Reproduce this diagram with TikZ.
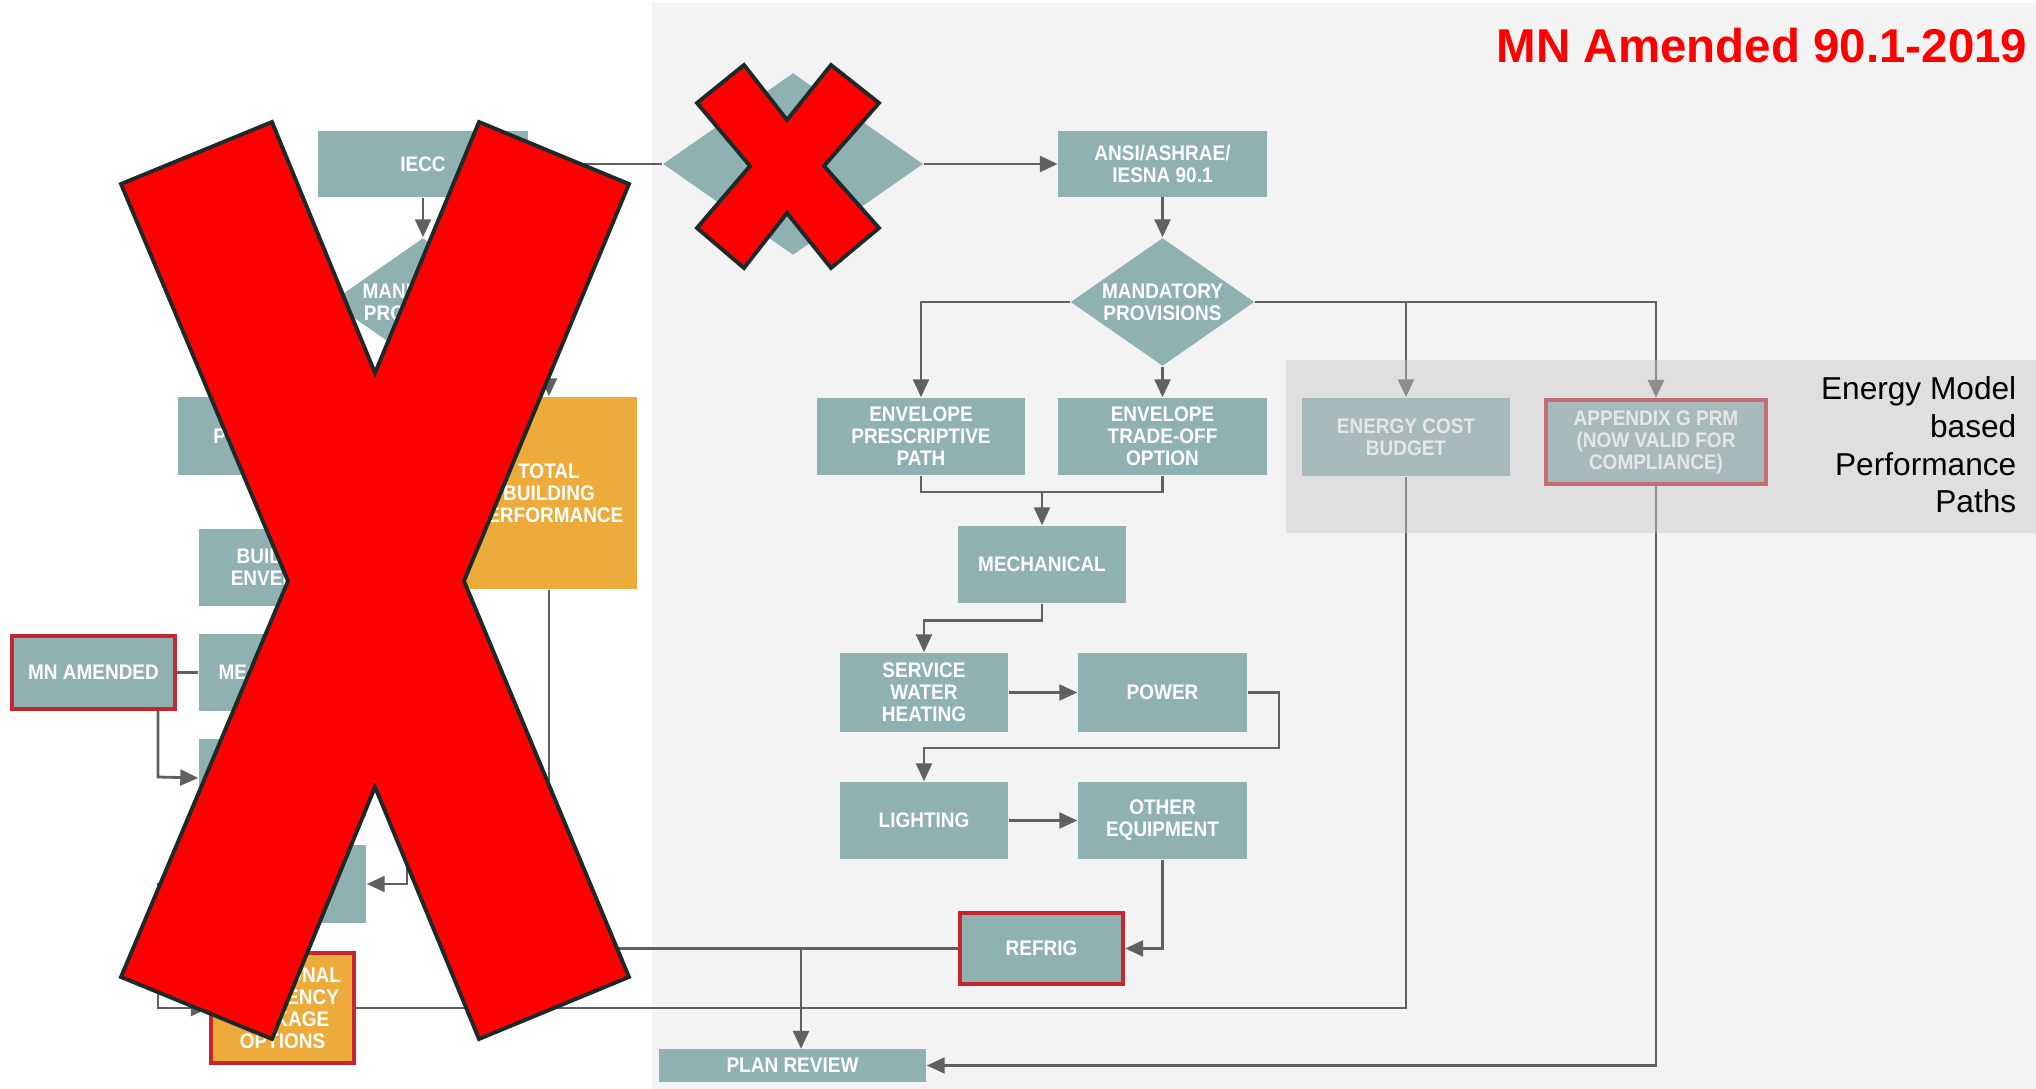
\documentclass[tikz,border=0pt]{standalone}
\usepackage{fontspec}
\setmainfont{Liberation Sans}
\newfontfamily\boxfont[FakeStretch=0.9]{Liberation Sans}
\usetikzlibrary{shapes.geometric,arrows.meta}

\definecolor{tealbox}{HTML}{8FB1B2}
\definecolor{orangebox}{HTML}{EDAB3B}
\definecolor{redline}{HTML}{C8262E}
\definecolor{linegray}{HTML}{606060}
\definecolor{bggray}{HTML}{F3F3F3}
\definecolor{xedge}{HTML}{1E2A2A}

\begin{document}
\begin{tikzpicture}[x=0.01cm, y=-0.01cm]
      \tikzstyle{STY1} = [draw=none, fill=tealbox, rectangle, text=white, inner sep=0pt, align=center, minimum height=.77cm, minimum width=1.67cm, font=\boxfont\bfseries\fontsize{6}{6.26}\selectfont]
      \tikzstyle{STY2} = [draw=linegray, line width=.8pt, -{Triangle[length=5.1pt, width=4.5pt]}]
      \tikzstyle{STY3} = [STY1, diamond, aspect=1.44, minimum width=1.84cm, minimum height=1.28cm]
      \tikzstyle{STY4} = [STY1, fill=orangebox]
      \tikzstyle{STY5} = [draw=redline, line width=1.2pt]
      \tikzstyle{STY6} = [draw=linegray, line width=.8pt]
      \tikzstyle{STY7} = [fill=red, draw=xedge, line width=1.1pt, line join=miter]

      \useasboundingbox (0,0) rectangle (2036,1089);
      \fill[bggray] (652,3) rectangle (2036,1089);

      %%%%% VERTEX

      \node[STY1, minimum width=2.10cm, minimum height=.66cm](v1) at (423, 164) {IECC};
      \node[STY3, minimum width=2.60cm, minimum height=1.82cm](v2) at (793, 164) {};
      \node[STY1, minimum width=2.08cm, minimum height=.65cm](v3) at (1162.5, 164) {ANSI/ASHRAE/\\IESNA 90.1};

      \node[STY3](v4) at (423, 302) {MANDATORY\\PROVISIONS};
      \node[STY3](v5) at (1162.5, 302) {MANDATORY\\PROVISIONS};

      \node[STY1, minimum width=2.07cm](v6) at (921, 436.5) {ENVELOPE\\PRESCRIPTIVE\\PATH};
      \node[STY1, minimum width=2.09cm](v7) at (1162.5, 436.5) {ENVELOPE\\TRADE-OFF\\OPTION};
      \node[STY1, minimum width=2.08cm, minimum height=.78cm](v8) at (1406, 437) {ENERGY COST\\BUDGET};
      \node[STY1, STY5, minimum width=2.20cm, minimum height=.84cm](v9) at (1656, 442) {APPENDIX G PRM\\(NOW VALID FOR\\COMPLIANCE)};

      \node[STY1, minimum width=1.68cm](v10) at (1042, 564.5) {MECHANICAL};
      \node[STY1, minimum width=1.68cm, minimum height=.79cm](v11) at (924, 692.5) {SERVICE\\WATER\\HEATING};
      \node[STY1, minimum width=1.69cm, minimum height=.79cm](v12) at (1162.5, 692.5) {POWER};
      \node[STY1, minimum width=1.68cm](v13) at (924, 820.5) {LIGHTING};
      \node[STY1, minimum width=1.69cm](v14) at (1162.5, 820.5) {OTHER\\EQUIPMENT};
      \node[STY1, STY5, minimum width=1.63cm, minimum height=.71cm](v15) at (1041.5, 948.5) {REFRIG};
      \node[STY1, minimum width=2.67cm, minimum height=.32cm](v16) at (792.5, 1065.5) {PLAN REVIEW};

      \node[STY1, minimum width=2.10cm, minimum height=.78cm](v17) at (283, 436) {PRESCRIPTIVE};
      \node[STY4, minimum width=1.76cm, minimum height=1.92cm](v18) at (549, 493) {TOTAL\\BUILDING\\PERFORMANCE};
      \node[STY1](v19) at (282.5, 567.5) {BUILDING\\ENVELOPE};
      \node[STY1](v20) at (282.5, 672.5) {MECHANICAL};
      \node[STY1, STY5, minimum width=1.63cm, minimum height=.73cm](v21) at (93.5, 672.5) {MN AMENDED};
      \node[STY1](v22) at (282.5, 778) {SERVICE\\WATER\\HEATING};
      \node[STY1, minimum height=.78cm](v23) at (282.5, 884) {EQUIPMENT\\LIGHTING};
      \node[STY4, STY5, minimum width=1.43cm, minimum height=1.10cm](v24) at (282.5, 1008) {ADDITIONAL\\EFFICIENCY\\PACKAGE\\OPTIONS};

      \node[anchor=base east, inner sep=0pt, text=red, font=\bfseries\fontsize{13.5}{16}\selectfont](v25) at (2028, 63) {MN Amended 90.1-2019};

      %%%%% EDGES

      \coordinate (m1) at (1042, 492);
      \coordinate (m2) at (1279, 748);
      \coordinate (j1) at (801, 948.5);
      \coordinate (m3) at (158, 1008);
      \coordinate (m4) at (407, 884);
      \coordinate (m5) at (158, 777);

      \draw[STY6]  (v1.east) -- (v2.west);
      \draw[STY2]  (v2.east) -- (v3.west);
      \draw[STY2]  (v1.south) -- (v4.north);
      \draw[STY2]  (v3.south) -- (v5.north);

      \draw[STY2]  (v5.west) -| (v6.north);
      \draw[STY2]  (v5.south) -- (v7.north);
      \draw[STY2]  (v5.east) -| (v8.north);
      \draw[STY2]  (v5.east) -| (v9.north);

      \draw[STY6]  (v6.south) |- (m1) -| (v7.south);
      \draw[STY2]  (m1) -- (v10.north);
      \draw[STY2]  (v10.south) -- ++(0,17) -| (v11.north);
      \draw[STY2]  (v11.east) -- (v12.west);
      \draw[STY2]  (v12.east) -| (m2) -| (v13.north);
      \draw[STY2]  (v13.east) -- (v14.west);
      \draw[STY2]  (v14.south) |- (v15.east);

      \draw[STY6]  (v15.west) -- (j1);
      \draw[STY6]  (v18.south) |- (j1);
      \draw[STY2]  (j1) -- (j1 |- v16.north);
      \draw[STY6]  (v8.south) |- (v24.east);
      \draw[STY2]  (v9.south) |- (v16.east);

      \draw[STY2]  (v4.west) -| (v17.north);
      \draw[STY2]  (v4.east) -| (v18.north);
      \draw[STY6]  (v21.east) -- (v20.west);
      \draw[STY2]  (v21.south -| m5) -- (m5) -- (v22.west);
      \draw[STY2]  (v22.east) -| (m4) -- (v23.east);
      \draw[STY2]  (v23.west) -| (m3) -- (v24.west);

      %%%%% BAND AND CROSSES

      \fill[black!22, fill opacity=.44] (1286, 360) rectangle (2036, 533);
      \node[anchor=east, align=right, inner sep=0pt, font=\fontsize{9}{10.7}\selectfont](v26) at (2017, 445) {Energy Model\\based\\Performance\\Paths};

      \draw[STY7] (121,184) -- (272,122) -- (375,373) -- (479,122) -- (629,184) -- (464,581) -- (629,977) -- (479,1039) -- (375,787) -- (272,1039) -- (121,977) -- (288,581) -- cycle;
      \draw[STY7] (744,65) -- (787,120) -- (831,65) -- (879,103) -- (824,166) -- (879,228) -- (831,268) -- (787,213) -- (744,268) -- (697,228) -- (750,166) -- (697,103) -- cycle;
\end{tikzpicture}
\end{document}
